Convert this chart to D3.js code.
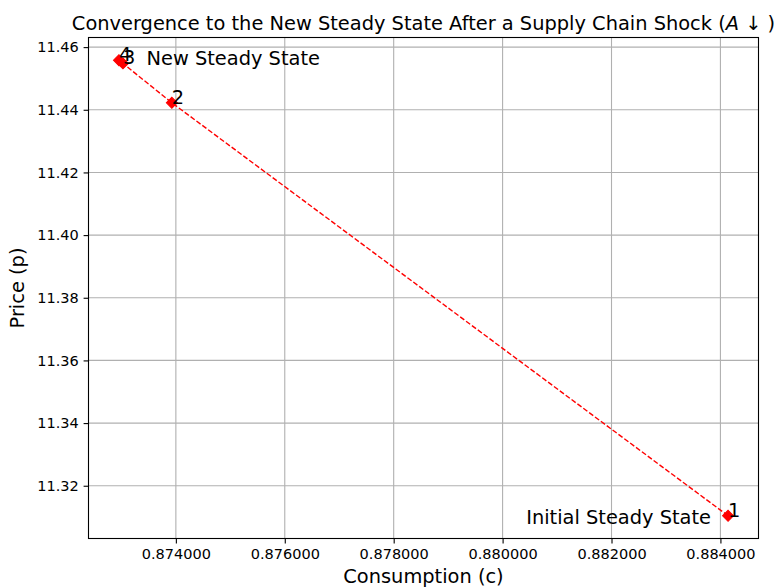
<!DOCTYPE html>
<html>
<head>
<meta charset="utf-8">
<script src="https://cdn.jsdelivr.net/npm/d3@7"></script>
<style>
  html, body { margin: 0; padding: 0; background: #fff; }
  svg { display: block; font-family: "DejaVu Sans", sans-serif; }
</style>
</head>
<body>
<svg id="chart" width="774" height="587"></svg>
<script>
// ---- Data ----
const iterations = [1, 2, 3, 4];
const consumption = [0.884140, 0.873926, 0.873028, 0.872955];
const price = [11.31043, 11.44224, 11.45479, 11.45580];
const xTicks = [0.874, 0.876, 0.878, 0.880, 0.882, 0.884];
const yTicks = [11.32, 11.34, 11.36, 11.38, 11.40, 11.42, 11.44, 11.46];
const titleMain = "Convergence to the New Steady State After a Supply Chain Shock (";
const xLabel = "Consumption (c)";
const yLabel = "Price (p)";
const startLabel = "Initial Steady State";
const endLabel = "New Steady State";

const svg = d3.select("#chart");
const m = { left: 88.5, right: 758.5, top: 37.5, bottom: 538.5 };

function padded(arr) {
  const [lo, hi] = d3.extent(arr);
  const r = hi - lo;
  return [lo - 0.05 * r, hi + 0.05 * r];
}

const x = d3.scaleLinear().domain(padded(consumption)).range([m.left, m.right]);
const y = d3.scaleLinear().domain(padded(price)).range([m.bottom, m.top]);

const pts = iterations.map((it, i) => ({ it, c: consumption[i], p: price[i] }));

// Grid
const grid = svg.append("g");
grid.selectAll("line.vx").data(xTicks).enter().append("line")
  .attr("x1", d => x(d)).attr("x2", d => x(d))
  .attr("y1", m.top).attr("y2", m.bottom)
  .attr("stroke", "#b0b0b0").attr("stroke-width", 1.1);
grid.selectAll("line.hy").data(yTicks).enter().append("line")
  .attr("x1", m.left).attr("x2", m.right)
  .attr("y1", d => y(d)).attr("y2", d => y(d))
  .attr("stroke", "#b0b0b0").attr("stroke-width", 1.1);

// Axes
const xAxis = d3.axisBottom(x).tickValues(xTicks).tickFormat(d3.format(".6f"))
  .tickSizeInner(4.9).tickSizeOuter(0).tickPadding(4.9);
const yAxis = d3.axisLeft(y).tickValues(yTicks).tickFormat(d3.format(".2f"))
  .tickSizeInner(4.9).tickSizeOuter(0).tickPadding(4.9);

const gx = svg.append("g").attr("transform", `translate(0,${m.bottom})`).call(xAxis);
const gy = svg.append("g").attr("transform", `translate(${m.left},0)`).call(yAxis);
[gx, gy].forEach(g => {
  g.select(".domain").remove();
  g.selectAll(".tick line").attr("stroke", "#000").attr("stroke-width", 1.1);
  g.selectAll(".tick text").attr("fill", "#000")
    .style("font-family", "DejaVu Sans").style("font-size", "14.5px");
});

// Frame
svg.append("rect")
  .attr("x", m.left).attr("y", m.top)
  .attr("width", m.right - m.left).attr("height", m.bottom - m.top)
  .attr("fill", "none").attr("stroke", "#000").attr("stroke-width", 1.1);

// Line
const line = d3.line().x(d => x(d.c)).y(d => y(d.p));
svg.append("path").datum(pts)
  .attr("d", line)
  .attr("fill", "none").attr("stroke", "#ff0000").attr("stroke-width", 1.4)
  .attr("stroke-dasharray", "5.1,2.2");

// Markers (diamonds)
const diamond = d3.symbol().type(d3.symbolSquare).size(60);
svg.selectAll("path.mk").data(pts).enter().append("path")
  .attr("d", diamond)
  .attr("transform", d => `translate(${x(d.c)},${y(d.p)}) rotate(45)`)
  .attr("fill", "#ff0000").attr("stroke", "#ff0000").attr("stroke-width", 1);

// Point labels
svg.selectAll("text.pl").data(pts).enter().append("text")
  .attr("x", d => x(d.c)).attr("y", d => y(d.p) + 1)
  .attr("text-anchor", "start")
  .style("font-size", "19.4px").attr("fill", "#000")
  .text(d => d.it);

// Start / end annotations
const first = pts[0], last = pts[pts.length - 1];
svg.append("text")
  .attr("x", x(first.c) - 17).attr("y", y(first.p) + 8.5)
  .attr("text-anchor", "end").style("font-size", "19.4px").attr("fill", "#000")
  .text(startLabel);
svg.append("text")
  .attr("x", x(last.c) + 27.5).attr("y", y(last.p) + 5)
  .attr("text-anchor", "start").style("font-size", "19.4px").attr("fill", "#000")
  .text(endLabel);

// Title
const cx = (m.left + m.right) / 2;
const t = svg.append("text").attr("x", cx).attr("y", 30)
  .attr("text-anchor", "middle").style("font-size", "19.4px").attr("fill", "#000");
t.append("tspan").text(titleMain);
t.append("tspan").style("font-style", "italic").text("A");
t.append("tspan").text(" \u2193 )");

// Axis labels
svg.append("text").attr("x", cx).attr("y", 583)
  .attr("text-anchor", "middle").style("font-size", "19.4px").attr("fill", "#000")
  .text(xLabel);
svg.append("text")
  .attr("transform", `translate(24,${(m.top + m.bottom) / 2}) rotate(-90)`)
  .attr("text-anchor", "middle").style("font-size", "19.4px").attr("fill", "#000")
  .text(yLabel);
</script>
</body>
</html>
